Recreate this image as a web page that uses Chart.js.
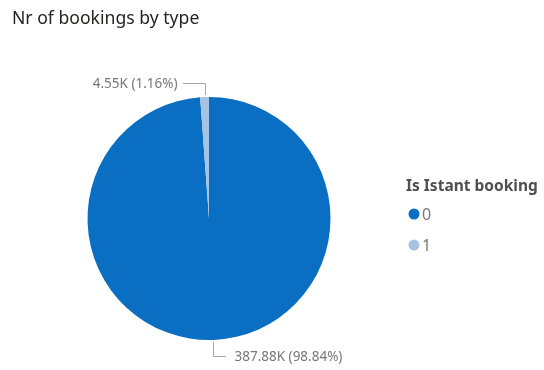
<!DOCTYPE html>
<html>
<head>
<meta charset="utf-8">
<script src="https://cdn.jsdelivr.net/npm/chart.js@4"></script>
<style>
  html, body { margin: 0; padding: 0; background: #fff; }
  #wrap { width: 544px; height: 370px; position: relative; }
</style>
</head>
<body>
<div id="wrap"><canvas id="bookingsChart"></canvas></div>
<script>
// Bookings split by the "instant booking" flag
const categories = ['0', '1'];
const bookings = [387880, 4550];
const valueLabels = ['387.88K', '4.55K'];
const percentLabels = ['98.84%', '1.16%'];
const sliceColors = ['#0A6FC2', '#A7C3E2'];

const chartTitle = 'Nr of bookings by type';
const legendTitle = 'Is Istant booking';
const FONT = '"Noto Sans", "Open Sans", sans-serif';

// title, data labels with leader lines, and the legend on the right
const decorations = {
  id: 'decorations',
  afterDraw(chart) {
    const c = chart.ctx;
    c.save();

    c.fillStyle = '#252423';
    c.font = '17.6px ' + FONT;
    c.textBaseline = 'middle';
    c.textAlign = 'left';
    c.fillText(chartTitle, 12, 19);

    // slice labels
    const meta = chart.getDatasetMeta(0);
    c.font = '13.5px ' + FONT;
    meta.data.forEach((arc, i) => {
      const mid = (arc.startAngle + arc.endAngle) / 2;
      const r = arc.outerRadius;
      const ax = arc.x + Math.cos(mid) * (r + 2);
      const ay = arc.y + Math.sin(mid) * (r + 2);
      const up = Math.sin(mid) < 0;
      const vy = up ? ay - 12 : ay + 14;
      const hx = up ? ax - 22 : ax + 13;
      c.strokeStyle = '#A6A6A6';
      c.lineWidth = 1;
      c.beginPath();
      c.moveTo(Math.round(ax) + 0.5, ay);
      c.lineTo(Math.round(ax) + 0.5, Math.round(vy) + 0.5);
      c.lineTo(Math.round(hx), Math.round(vy) + 0.5);
      c.stroke();
      const txt = valueLabels[i] + ' (' + percentLabels[i] + ')';
      c.fillStyle = '#777777';
      c.textAlign = up ? 'right' : 'left';
      c.fillText(txt, up ? hx - 5 : hx + 8, vy + 1);
    });

    // legend
    c.textAlign = 'left';
    c.fillStyle = '#4F4F4F';
    c.font = 'bold 15.5px ' + FONT;
    c.fillText(legendTitle, 406, 187);
    c.font = '16px ' + FONT;
    categories.forEach((cat, i) => {
      const y = 214 + i * 31;
      c.fillStyle = sliceColors[i];
      c.beginPath();
      c.arc(414, y, 5.5, 0, Math.PI * 2);
      c.fill();
      c.fillStyle = '#777777';
      c.fillText(cat, 422, y + 1);
    });

    c.restore();
  }
};

new Chart(document.getElementById('bookingsChart'), {
  type: 'pie',
  data: {
    labels: categories,
    datasets: [{
      data: bookings,
      backgroundColor: sliceColors,
      borderWidth: 0
    }]
  },
  options: {
    responsive: true,
    maintainAspectRatio: false,
    animation: false,
    layout: { padding: { left: 87, right: 213, top: 97, bottom: 30 } },
    plugins: {
      legend: { display: false },
      title: { display: false },
      tooltip: { enabled: false }
    }
  },
  plugins: [decorations]
});
</script>
</body>
</html>
